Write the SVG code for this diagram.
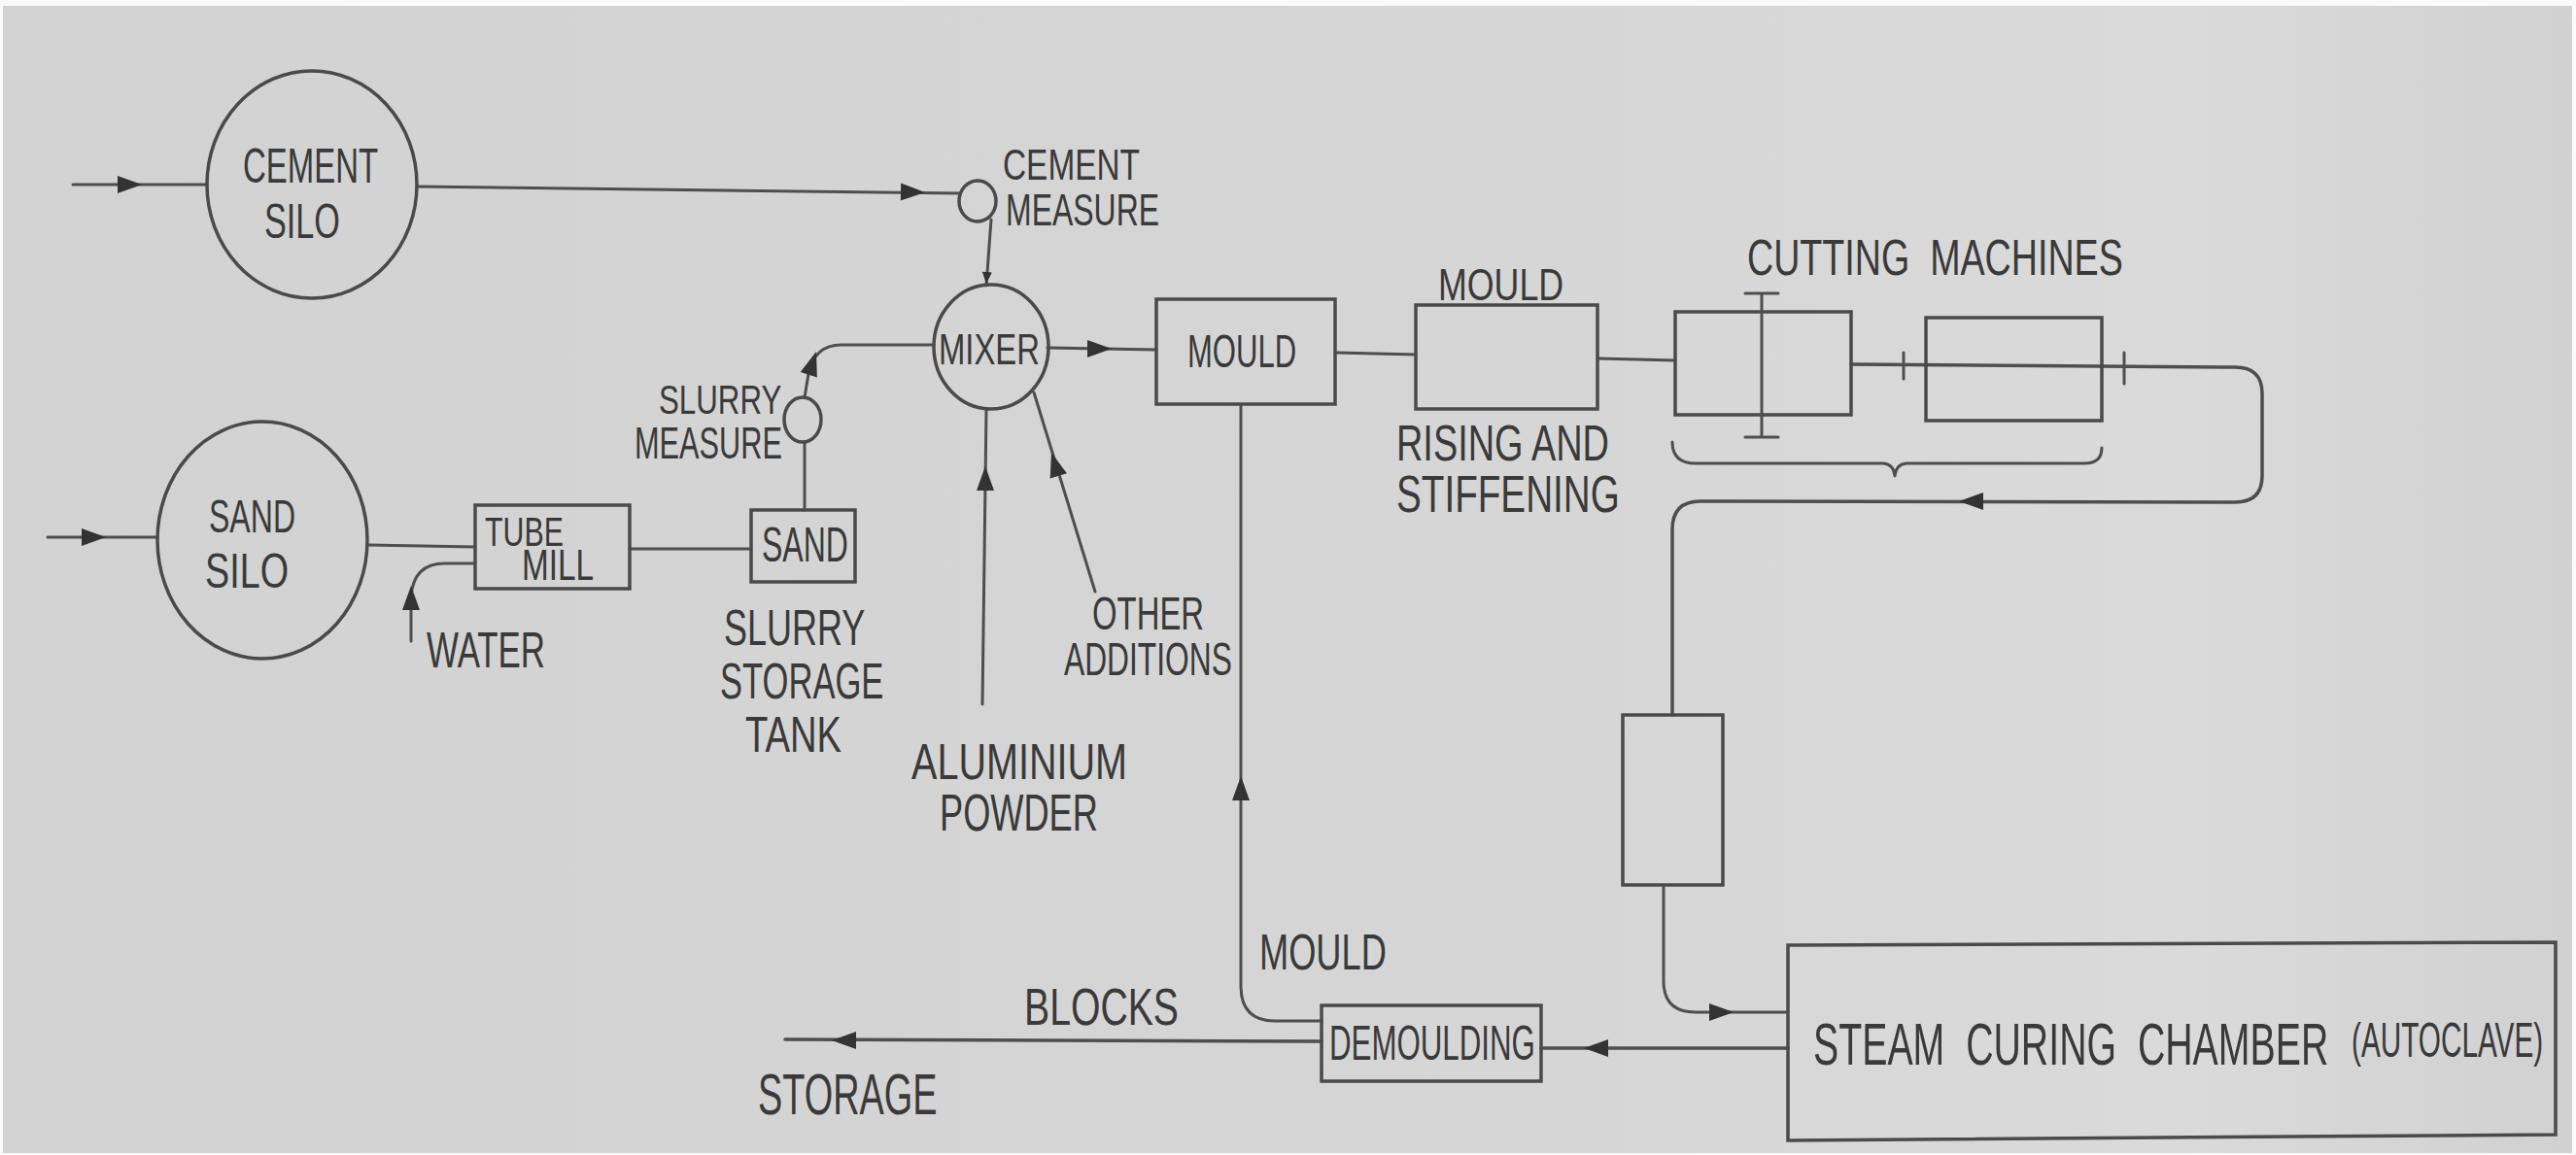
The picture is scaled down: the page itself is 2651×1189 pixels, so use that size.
<svg xmlns="http://www.w3.org/2000/svg" xmlns:xlink="http://www.w3.org/1999/xlink" width="2651" height="1189" viewBox="0 0 2651 1189">
<style>
.ln{fill:none;stroke:#4e4e4e;stroke-width:3;stroke-linecap:round;stroke-linejoin:round}
.bx{fill:none;stroke:#4a4a4a;stroke-width:3.5}
.tx{font-family:"Liberation Sans",Arial,sans-serif;fill:#3a3a3a}
.ah{fill:#333}
</style>
<defs>
<linearGradient id="bg" x1="0" y1="0" x2="1" y2="0">
<stop offset="0" stop-color="#d2d2d2"/>
<stop offset="0.6" stop-color="#d6d6d6"/>
<stop offset="0.85" stop-color="#dadada"/>
<stop offset="1" stop-color="#d1d1d1"/>
</linearGradient>
<path id="arr" d="M0,0 L-25,-9 L-25,9 Z"/>
<path id="arrs" d="M0,0 L-12,-5 L-12,5 Z"/>
</defs>
<rect x="0" y="0" width="2651" height="1189" fill="#fafafa"/>
<rect x="3" y="6" width="2644" height="1181" fill="url(#bg)"/>

<g id="connectors">
<path class="ln" d="M75,190 L213,190"/>
<path class="ln" d="M429,192 L988,199"/>
<path class="ln" d="M1020,226 L1015,294"/>
<path class="ln" d="M828,409 L832,385 Q838,355 866,355 L961,355"/>
<path class="ln" d="M828,455 L828,525"/>
<path class="ln" d="M49,553 L162,553"/>
<path class="ln" d="M379,561 L489,563"/>
<path class="ln" d="M648,565 L773,565"/>
<path class="ln" d="M423,660 L423,615 Q425,580 458,580 L489,580"/>
<path class="ln" d="M1078,358 L1190,360"/>
<path class="ln" d="M1011,725 L1015,421"/>
<path class="ln" d="M1127,609 L1064,404"/>
<path class="ln" d="M1374,363 L1457,365"/>
<path class="ln" d="M1644,369 L1724,371"/>
<path class="ln" style="stroke-width:3.5" d="M1905,375 L2300,378 Q2328,378 2328,405 L2328,490 Q2328,517 2300,517 L1750,516 Q1721,516 1721,545 L1721,736"/>
<path class="ln" d="M1959,363 L1959,390 M2186,363 L2186,395"/>
<path class="ln" d="M1712,911 L1712,1010 Q1712,1042 1745,1042 L1840,1042"/>
<path class="ln" style="stroke-width:3.5" d="M1840,1079 L1586,1079"/>
<path class="ln" style="stroke-width:3.5" d="M1360,1072 L808,1070"/>
<path class="ln" d="M1360,1051 L1312,1051 Q1277,1051 1277,1015 L1277,417"/>
<use href="#arr" class="ah" transform="translate(146,190)"/>
<use href="#arr" class="ah" transform="translate(109,553)"/>
<use href="#arr" class="ah" transform="translate(952,198) rotate(1)"/>
<use href="#arrs" class="ah" transform="translate(1015,292) rotate(94)"/>
<use href="#arr" class="ah" transform="translate(840,362) rotate(-72)"/>
<use href="#arr" class="ah" transform="translate(1144,359)"/>
<use href="#arr" class="ah" transform="translate(1014,480) rotate(-90)"/>
<use href="#arr" class="ah" transform="translate(1082,466) rotate(-107)"/>
<use href="#arr" class="ah" transform="translate(2016,516) rotate(180)"/>
<use href="#arr" class="ah" transform="translate(1784,1042)"/>
<use href="#arr" class="ah" transform="translate(1630,1079) rotate(180)"/>
<use href="#arr" class="ah" transform="translate(856,1071) rotate(180)"/>
<use href="#arr" class="ah" transform="translate(1277,799) rotate(-90)"/>
<use href="#arr" class="ah" transform="translate(423,603) rotate(-90)"/>
</g>

<g id="cement-silo">
<ellipse class="bx" cx="321" cy="190" rx="108" ry="117"/>
<text class="tx" font-size="50" transform="translate(250,188) scale(0.659,1)">CEMENT</text>
<text class="tx" font-size="50" transform="translate(272,245) scale(0.684,1)">SILO</text>
</g>

<g id="sand-silo">
<ellipse class="bx" cx="270" cy="556" rx="108" ry="122"/>
<text class="tx" font-size="49" transform="translate(215,548) scale(0.654,1)">SAND</text>
<text class="tx" font-size="50" transform="translate(211,605) scale(0.755,1)">SILO</text>
</g>

<g id="tube-mill">
<rect class="bx" x="489" y="520" width="159" height="86"/>
<text class="tx" font-size="42" transform="translate(499,562) scale(0.723,1)">TUBE</text>
<text class="tx" font-size="44" transform="translate(537,597) scale(0.757,1)">MILL</text>
</g>

<g id="water">
<text class="tx" font-size="52" transform="translate(439,687) scale(0.671,1)">WATER</text>
</g>

<g id="slurry-storage-tank">
<rect class="bx" x="773" y="525" width="107" height="74"/>
<text class="tx" font-size="50" transform="translate(784,578) scale(0.640,1)">SAND</text>
<text class="tx" font-size="52" transform="translate(745,664) scale(0.692,1)">SLURRY</text>
<text class="tx" font-size="52" transform="translate(741,719) scale(0.665,1)">STORAGE</text>
<text class="tx" font-size="52" transform="translate(767,774) scale(0.735,1)">TANK</text>
</g>

<g id="slurry-measure">
<ellipse class="bx" cx="826" cy="432" rx="19" ry="23"/>
<text class="tx" font-size="43" transform="translate(678,426) scale(0.728,1)">SLURRY</text>
<text class="tx" font-size="46" transform="translate(653,472) scale(0.668,1)">MEASURE</text>
</g>

<g id="cement-measure">
<ellipse class="bx" cx="1006" cy="207" rx="19" ry="21"/>
<text class="tx" font-size="44" transform="translate(1032,185) scale(0.759,1)">CEMENT</text>
<text class="tx" font-size="46" transform="translate(1035,232) scale(0.695,1)">MEASURE</text>
</g>

<g id="mixer">
<ellipse class="bx" cx="1020" cy="357" rx="59" ry="64"/>
<text class="tx" font-size="45" transform="translate(966,375) scale(0.730,1)">MIXER</text>
</g>

<g id="aluminium-powder">
<text class="tx" font-size="52" transform="translate(938,802) scale(0.761,1)">ALUMINIUM</text>
<text class="tx" font-size="53" transform="translate(967,855) scale(0.683,1)">POWDER</text>
</g>

<g id="other-additions">
<text class="tx" font-size="48" transform="translate(1124,648) scale(0.685,1)">OTHER</text>
<text class="tx" font-size="49" transform="translate(1095,695) scale(0.648,1)">ADDITIONS</text>
</g>

<g id="mould">
<rect class="bx" x="1190" y="308" width="184" height="108"/>
<text class="tx" font-size="48" transform="translate(1222,378) scale(0.647,1)">MOULD</text>
</g>

<g id="mould-rising">
<rect class="bx" x="1457" y="314" width="187" height="107"/>
<text class="tx" font-size="46" transform="translate(1480,309) scale(0.777,1)">MOULD</text>
<text class="tx" font-size="51" transform="translate(1437,474) scale(0.743,1)">RISING AND</text>
<text class="tx" font-size="54" transform="translate(1437,527) scale(0.716,1)">STIFFENING</text>
</g>

<g id="cutting-machines">
<rect class="bx" x="1724" y="321" width="181" height="106"/>
<path class="ln" d="M1813,302 L1813,450 M1796,302 L1830,302 M1796,450 L1830,450"/>
<rect class="bx" x="1982" y="327" width="181" height="106"/>
<path class="ln" d="M1721,455 Q1721,477 1745,477 L1938,477 Q1949,478 1950,490 Q1951,478 1962,477 L2145,477 Q2163,477 2163,461"/>
<text class="tx" font-size="52" transform="translate(1798,283) scale(0.724,1)" xml:space="preserve">CUTTING  MACHINES</text>
</g>

<g id="transfer">
<rect class="bx" x="1670" y="736" width="103" height="175"/>
</g>

<g id="steam-curing-chamber">
<path class="bx" d="M1840,973 L2630,970 L2630,1168 L1840,1174 Z"/>
<text class="tx" font-size="61" transform="translate(1866,1096) scale(0.644,1)" xml:space="preserve">STEAM  CURING  CHAMBER</text>
<text class="tx" font-size="50" transform="translate(2420,1088) scale(0.595,1)">(AUTOCLAVE)</text>
</g>

<g id="demoulding">
<rect class="bx" x="1360" y="1035" width="226" height="78"/>
<text class="tx" font-size="50" transform="translate(1368,1091) scale(0.625,1)">DEMOULDING</text>
</g>

<g id="blocks-storage">
<text class="tx" font-size="54" transform="translate(1054,1055) scale(0.726,1)">BLOCKS</text>
<text class="tx" font-size="60" transform="translate(780,1147) scale(0.631,1)">STORAGE</text>
</g>

<g id="mould-return">
<text class="tx" font-size="52" transform="translate(1296,998) scale(0.697,1)">MOULD</text>
</g>
</svg>
